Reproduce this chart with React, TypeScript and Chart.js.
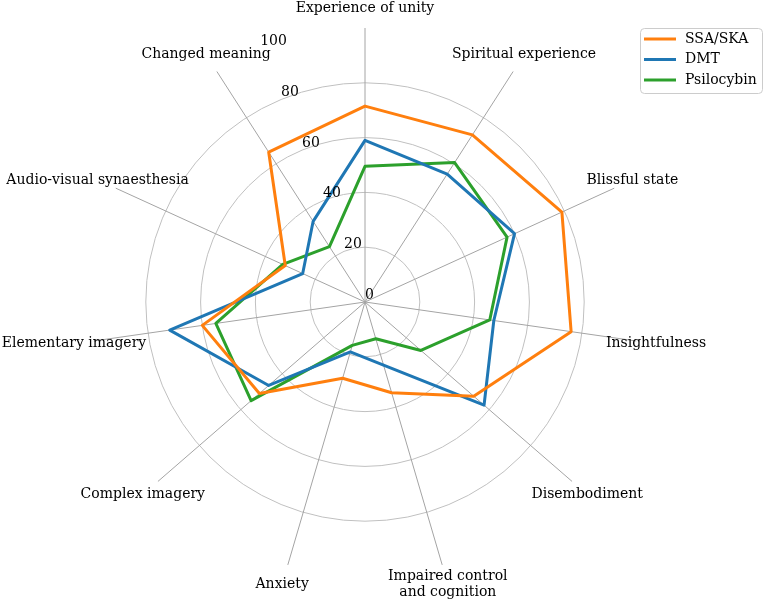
import React, { useEffect, useRef } from 'react';
import { Chart, registerables } from 'chart.js';

Chart.register(...registerables);

const categories: (string | string[])[] = [
	'Experience of unity',
	'Spiritual experience',
	'Blissful state',
	'Insightfulness',
	'Disembodiment',
	['Impaired control', 'and cognition'],
	'Anxiety',
	'Complex imagery',
	'Elementary imagery',
	'Audio-visual synaesthesia',
	'Changed meaning',
];

const seriesNames = ['SSA/SKA', 'DMT', 'Psilocybin'];
const seriesColors = ['#ff7f0e', '#1f77b4', '#2ca02c'];

const ssaValues = [71.5, 72.5, 79, 76, 52.5, 34.5, 29, 51, 60, 32, 65];
const dmtValues = [59, 55.5, 60, 47.5, 57.5, 24, 19, 46.5, 72, 25, 35];
const psilocybinValues = [49.5, 60.5, 57, 46, 27, 14, 16.5, 55, 55, 33, 24];

const tickValues = [0, 20, 40, 60, 80, 100];

const FONT = '14px "DejaVu Serif"';

// draws axis labels, radial tick labels (at 22.5 deg) and the framed legend
const overlayPlugin = {
	id: 'overlay',
	afterDraw(chart: any) {
		const ctx = chart.ctx;
		const scale = chart.scales.r;
		ctx.save();
		ctx.font = FONT;
		ctx.fillStyle = '#000';

		ctx.textAlign = 'center';
		ctx.textBaseline = 'middle';
		chart.data.labels.forEach((label: string | string[], i: number) => {
			const lines = Array.isArray(label) ? label : [label];
			const p = scale.getPointPosition(i, scale.drawingArea + 20);
			lines.forEach((ln, j) => {
				ctx.fillText(ln, p.x, p.y + (j - (lines.length - 1) / 2) * 16);
			});
		});

		const a = -Math.PI / 2 - Math.PI / 8;
		ctx.textAlign = 'left';
		ctx.textBaseline = 'bottom';
		tickValues.forEach((v) => {
			const d = scale.getDistanceFromCenterForValue(v);
			ctx.fillText(String(v), scale.xCenter + Math.cos(a) * d, scale.yCenter + Math.sin(a) * d);
		});

		// legend
		const lx = 640, ly = 28, lw = 122, lh = 65;
		ctx.beginPath();
		ctx.roundRect(lx + 0.5, ly + 0.5, lw, lh, 4);
		ctx.fillStyle = 'rgba(255,255,255,0.8)';
		ctx.fill();
		ctx.strokeStyle = '#cccccc';
		ctx.lineWidth = 1;
		ctx.stroke();
		ctx.textBaseline = 'middle';
		chart.data.datasets.forEach((ds: any, i: number) => {
			const y = ly + 11 + i * 20.5;
			ctx.beginPath();
			ctx.moveTo(lx + 4, y);
			ctx.lineTo(lx + 36, y);
			ctx.strokeStyle = ds.borderColor;
			ctx.lineWidth = 3;
			ctx.stroke();
			ctx.fillStyle = '#000';
			ctx.fillText(ds.label, lx + 45, y);
		});
		ctx.restore();
	},
};

export default function App() {
	const canvasRef = useRef<HTMLCanvasElement>(null);
	const chartRef = useRef<Chart | null>(null);

	useEffect(() => {
		if (!canvasRef.current) return;
		if (chartRef.current) chartRef.current.destroy();

		const values = [ssaValues, dmtValues, psilocybinValues];

		chartRef.current = new Chart(canvasRef.current, {
			type: 'radar',
			data: {
				labels: categories as any,
				datasets: values.map((data, i) => ({
					label: seriesNames[i],
					data,
					borderColor: seriesColors[i],
					backgroundColor: 'transparent',
					borderWidth: 3,
					borderJoinStyle: 'round' as const,
					pointRadius: 0,
					pointHoverRadius: 0,
					fill: false,
				})),
			},
			options: {
				responsive: false,
				animation: false,
				layout: { padding: { left: 91, top: 28, right: 126, bottom: 27 } },
				plugins: {
					legend: { display: false },
					tooltip: { enabled: false },
				},
				scales: {
					r: {
						min: 0,
						max: 100,
						ticks: { stepSize: 20, display: false },
						pointLabels: { display: false },
						grid: {
							circular: true,
							color: (c: any) => (c.tick && c.tick.value === 100 ? 'rgba(0,0,0,0)' : '#c0c0c0'),
							lineWidth: 1,
						},
						angleLines: { color: '#a4a4a4', lineWidth: 1 },
					},
				},
			},
			plugins: [overlayPlugin],
		});

		return () => {
			if (chartRef.current) {
				chartRef.current.destroy();
				chartRef.current = null;
			}
		};
	}, []);

	return (
		<div style={{ position: 'absolute', left: 0, top: 0, width: 765, height: 603, background: '#fff' }}>
			<canvas ref={canvasRef} width={765} height={603} />
		</div>
	);
}
